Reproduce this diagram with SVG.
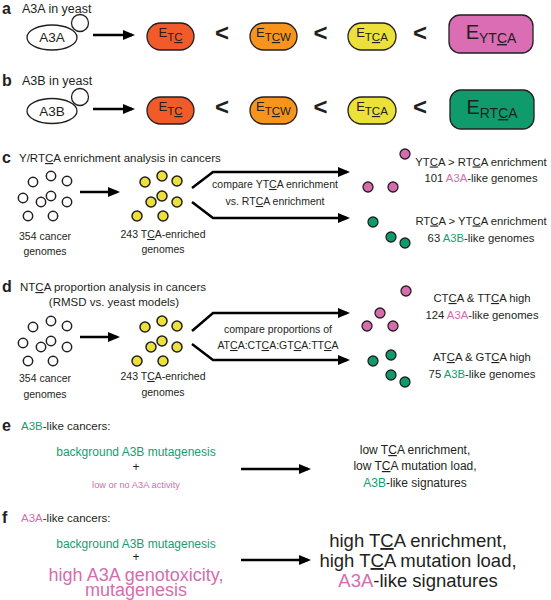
<svg xmlns="http://www.w3.org/2000/svg" width="551" height="600" viewBox="0 0 551 600">
<style>
text{font-family:"Liberation Sans",Arial,Helvetica,sans-serif;fill:#231f20}
.lbl{font-weight:bold;font-size:16px}
.h{font-size:12.5px}
.s{font-size:11.5px}
.m{font-size:10.5px}
.cap{font-size:11.3px}
.lt{font-weight:bold;font-size:24px}
.pe{font-size:13px}
.pE{font-size:20px}
.u{text-decoration:underline}
.pk{fill:#d66cad}
.gn{fill:#149e72}
.open{fill:#fff;stroke:#231f20;stroke-width:1.5}
.yel{fill:#ebe13a;stroke:#231f20;stroke-width:1.5}
.pd{fill:#d66cae;stroke:#231f20;stroke-width:1.3}
.gd{fill:#0f9a6c;stroke:#231f20;stroke-width:1.3}
.ar{fill:none;stroke:#000;stroke-width:2.5;marker-end:url(#ah)}
.pill{stroke:#231f20;stroke-width:1.3}
.yst{fill:#fff;stroke:#231f20;stroke-width:1.3}
</style>
<defs>
<marker id="ah" markerUnits="userSpaceOnUse" markerWidth="12" markerHeight="10" refX="9" refY="5" orient="auto"><path d="M0,0 L12,5 L0,10 z" fill="#000"/></marker>
</defs>

<!-- panel a -->
<g id="panel-a-label"><text x="2" y="13.5" class="lbl">a</text><text x="22" y="12.5" class="h">A3A in yeast</text></g>
<g id="yeastA"><ellipse cx="52" cy="37.5" rx="25" ry="12.5" class="yst"/><circle cx="80" cy="23" r="8.5" class="yst"/><text x="52" y="42" text-anchor="middle" style="font-size:13.5px">A3A</text></g>
<g id="a-ETC"><rect x="147" y="23" width="47" height="27" rx="13.5" fill="#f15a29" class="pill"/><text x="170.5" y="37" text-anchor="middle" class="pe">E<tspan dy="4" style="font-size:11.5px">T<tspan class="u">C</tspan></tspan></text></g>
<g id="a-lt1"><text x="222" y="41" text-anchor="middle" class="lt">&lt;</text></g>
<g id="a-ETCW"><rect x="250" y="23" width="47" height="27" rx="13.5" fill="#f7941d" class="pill"/><text x="273.5" y="37" text-anchor="middle" class="pe">E<tspan dy="4" style="font-size:11.5px">T<tspan class="u">C</tspan>W</tspan></text></g>
<g id="a-lt2"><text x="320.5" y="41" text-anchor="middle" class="lt">&lt;</text></g>
<g id="a-ETCA"><rect x="348" y="23" width="48" height="27" rx="13.5" fill="#ebe13a" class="pill"/><text x="372" y="37" text-anchor="middle" class="pe">E<tspan dy="4" style="font-size:11.5px">T<tspan class="u">C</tspan>A</tspan></text></g>
<g id="a-lt3"><text x="420" y="41" text-anchor="middle" class="lt">&lt;</text></g>
<g id="a-EYTCA"><rect x="449" y="15" width="84" height="38" rx="11" fill="#da6db3" class="pill"/><text x="491" y="39" text-anchor="middle" class="pE">E<tspan dy="4" style="font-size:14px">YT<tspan class="u">C</tspan>A</tspan></text></g>

<!-- panel b -->
<g id="panel-b-label"><text x="2" y="86" class="lbl">b</text><text x="22" y="85" class="h">A3B in yeast</text></g>
<g id="yeastB"><ellipse cx="52" cy="111" rx="25" ry="12.5" class="yst"/><circle cx="80" cy="97" r="8.5" class="yst"/><text x="52" y="115.5" text-anchor="middle" style="font-size:13.5px">A3B</text></g>
<g id="b-ETC"><rect x="147" y="97" width="47" height="27" rx="13.5" fill="#f15a29" class="pill"/><text x="170.5" y="111" text-anchor="middle" class="pe">E<tspan dy="4" style="font-size:11.5px">T<tspan class="u">C</tspan></tspan></text></g>
<g id="b-lt1"><text x="222" y="115" text-anchor="middle" class="lt">&lt;</text></g>
<g id="b-ETCW"><rect x="250" y="97" width="47" height="27" rx="13.5" fill="#f7941d" class="pill"/><text x="273.5" y="111" text-anchor="middle" class="pe">E<tspan dy="4" style="font-size:11.5px">T<tspan class="u">C</tspan>W</tspan></text></g>
<g id="b-lt2"><text x="320.5" y="115" text-anchor="middle" class="lt">&lt;</text></g>
<g id="b-ETCA"><rect x="348" y="97" width="48" height="27" rx="13.5" fill="#ebe13a" class="pill"/><text x="372" y="111" text-anchor="middle" class="pe">E<tspan dy="4" style="font-size:11.5px">T<tspan class="u">C</tspan>A</tspan></text></g>
<g id="b-lt3"><text x="420" y="115" text-anchor="middle" class="lt">&lt;</text></g>
<g id="b-ERTCA"><rect x="450" y="90" width="84" height="39" rx="11" fill="#109b6d" class="pill"/><text x="492" y="114" text-anchor="middle" class="pE">E<tspan dy="4" style="font-size:14px">RT<tspan class="u">C</tspan>A</tspan></text></g>

<!-- panel c -->
<g id="panel-c-label"><text x="2" y="163" class="lbl">c</text><text x="19" y="162" class="s">Y/RT<tspan class="u">C</tspan>A enrichment analysis in cancers</text></g>
<g id="c-cancers">
<circle cx="33" cy="182" r="4.7" class="open"/><circle cx="51" cy="176" r="4.7" class="open"/><circle cx="67" cy="181" r="4.7" class="open"/>
<circle cx="23" cy="198" r="4.7" class="open"/><circle cx="41" cy="202" r="4.7" class="open"/><circle cx="51" cy="196" r="4.7" class="open"/><circle cx="67" cy="202" r="4.7" class="open"/>
<circle cx="28" cy="216" r="4.7" class="open"/><circle cx="53" cy="216" r="4.7" class="open"/>
<text x="45" y="240" text-anchor="middle" class="m">354 cancer</text><text x="45" y="255" text-anchor="middle" class="m">genomes</text>
</g>
<g id="c-enriched">
<circle cx="145" cy="182" r="5" class="yel"/><circle cx="162" cy="176" r="5" class="yel"/><circle cx="177" cy="181" r="5" class="yel"/>
<circle cx="162" cy="196" r="5" class="yel"/><circle cx="151" cy="202" r="5" class="yel"/><circle cx="177" cy="202" r="5" class="yel"/>
<circle cx="137" cy="216" r="5" class="yel"/><circle cx="163" cy="216" r="5" class="yel"/>
<text x="163" y="238" text-anchor="middle" class="m">243 T<tspan class="u">C</tspan>A-enriched</text><text x="163" y="253" text-anchor="middle" class="m">genomes</text>
</g>
<g id="c-compare"><text x="275" y="188" text-anchor="middle" class="m">compare YT<tspan class="u">C</tspan>A enrichment</text><text x="275" y="205" text-anchor="middle" class="m">vs. RT<tspan class="u">C</tspan>A enrichment</text></g>
<g id="c-A3A">
<circle cx="405" cy="154" r="5" class="pd"/><circle cx="368" cy="187" r="5" class="pd"/><circle cx="393" cy="187" r="5" class="pd"/>
<text x="481" y="165.5" text-anchor="middle" class="cap">YT<tspan class="u">C</tspan>A &gt; RT<tspan class="u">C</tspan>A enrichment</text>
<text x="481" y="181.5" text-anchor="middle" class="cap">101 <tspan class="pk">A3A</tspan>-like genomes</text>
</g>
<g id="c-A3B">
<circle cx="373" cy="222" r="5" class="gd"/><circle cx="391" cy="237" r="5" class="gd"/><circle cx="405" cy="243" r="5" class="gd"/>
<text x="481" y="224.5" text-anchor="middle" class="cap">RT<tspan class="u">C</tspan>A &gt; YT<tspan class="u">C</tspan>A enrichment</text>
<text x="481" y="241.5" text-anchor="middle" class="cap">63 <tspan class="gn">A3B</tspan>-like genomes</text>
</g>

<!-- panel d -->
<g id="panel-d-label"><text x="2" y="292" class="lbl">d</text><text x="20" y="291" class="s">NT<tspan class="u">C</tspan>A proportion analysis in cancers</text><text x="114" y="306" text-anchor="middle" class="s">(RMSD vs. yeast models)</text></g>
<g id="d-cancers">
<circle cx="33" cy="327" r="4.7" class="open"/><circle cx="51" cy="321" r="4.7" class="open"/><circle cx="67" cy="326" r="4.7" class="open"/>
<circle cx="23" cy="343" r="4.7" class="open"/><circle cx="41" cy="347" r="4.7" class="open"/><circle cx="51" cy="341" r="4.7" class="open"/><circle cx="67" cy="347" r="4.7" class="open"/>
<circle cx="28" cy="361" r="4.7" class="open"/><circle cx="53" cy="361" r="4.7" class="open"/>
<text x="45" y="382" text-anchor="middle" class="m">354 cancer</text><text x="45" y="398" text-anchor="middle" class="m">genomes</text>
</g>
<g id="d-enriched">
<circle cx="145" cy="327" r="5" class="yel"/><circle cx="162" cy="321" r="5" class="yel"/><circle cx="177" cy="326" r="5" class="yel"/>
<circle cx="162" cy="341" r="5" class="yel"/><circle cx="151" cy="347" r="5" class="yel"/><circle cx="177" cy="347" r="5" class="yel"/>
<circle cx="137" cy="361" r="5" class="yel"/><circle cx="163" cy="361" r="5" class="yel"/>
<text x="163" y="380" text-anchor="middle" class="m">243 T<tspan class="u">C</tspan>A-enriched</text><text x="163" y="396" text-anchor="middle" class="m">genomes</text>
</g>
<g id="d-compare"><text x="278" y="333" text-anchor="middle" class="m">compare proportions of</text><text x="278" y="349" text-anchor="middle" class="m">AT<tspan class="u">C</tspan>A:CT<tspan class="u">C</tspan>A:GT<tspan class="u">C</tspan>A:TT<tspan class="u">C</tspan>A</text></g>
<g id="d-A3A">
<circle cx="406" cy="291" r="5" class="pd"/><circle cx="380" cy="313" r="5" class="pd"/><circle cx="367" cy="326" r="5" class="pd"/><circle cx="393" cy="326" r="5" class="pd"/>
<text x="482" y="302" text-anchor="middle" class="cap">CT<tspan class="u">C</tspan>A &amp; TT<tspan class="u">C</tspan>A high</text>
<text x="482" y="319" text-anchor="middle" class="cap">124 <tspan class="pk">A3A</tspan>-like genomes</text>
</g>
<g id="d-A3B">
<circle cx="391" cy="355" r="5" class="gd"/><circle cx="373" cy="361" r="5" class="gd"/><circle cx="391" cy="375" r="5" class="gd"/><circle cx="405" cy="382" r="5" class="gd"/>
<text x="482" y="361" text-anchor="middle" class="cap">AT<tspan class="u">C</tspan>A &amp; GT<tspan class="u">C</tspan>A high</text>
<text x="482" y="378" text-anchor="middle" class="cap">75 <tspan class="gn">A3B</tspan>-like genomes</text>
</g>

<!-- panel e -->
<g id="panel-e-label"><text x="2" y="431" class="lbl">e</text><text x="21" y="430" class="s"><tspan class="gn">A3B</tspan>-like cancers:</text></g>
<g id="e-left">
<text x="136" y="456" text-anchor="middle" style="font-size:12px" class="gn">background A3B mutagenesis</text>
<text x="136" y="471" text-anchor="middle" style="font-size:12px">+</text>
<text x="136" y="488" text-anchor="middle" style="font-size:9.3px" class="pk">low or no A3A activity</text>
</g>
<g id="e-right">
<text x="415" y="454" text-anchor="middle" style="font-size:12px">low T<tspan class="u">C</tspan>A enrichment,</text>
<text x="415" y="470" text-anchor="middle" style="font-size:12px">low T<tspan class="u">C</tspan>A mutation load,</text>
<text x="415" y="487" text-anchor="middle" style="font-size:12px"><tspan class="gn">A3B</tspan>-like signatures</text>
</g>

<!-- panel f -->
<g id="panel-f-label"><text x="2" y="523" class="lbl">f</text><text x="21" y="522" class="s"><tspan class="pk">A3A</tspan>-like cancers:</text></g>
<g id="f-left">
<text x="136" y="548" text-anchor="middle" style="font-size:12px" class="gn">background A3B mutagenesis</text>
<text x="136" y="561" text-anchor="middle" style="font-size:12px">+</text>
<text text-anchor="middle" style="font-size:18px" class="pk"><tspan x="136" y="581">high A3A genotoxicity,</tspan><tspan x="136" y="596">mutagenesis</tspan></text>
</g>
<g id="f-right">
<text x="418" y="547" text-anchor="middle" style="font-size:18.5px">high T<tspan class="u">C</tspan>A enrichment,</text>
<text x="418" y="567" text-anchor="middle" style="font-size:18.5px">high T<tspan class="u">C</tspan>A mutation load,</text>
<text x="418" y="587" text-anchor="middle" style="font-size:18.5px"><tspan class="pk">A3A</tspan>-like signatures</text>
</g>

<!-- connectors -->
<g id="connectors">
<path d="M93,35 L132,35" class="ar"/>
<path d="M93,109 L132,109" class="ar"/>
<path d="M80,192 L117,192" class="ar"/>
<path d="M192,188 L213,172 L347,172" class="ar"/>
<path d="M192,202 L213,218 L347,218" class="ar"/>
<path d="M80,337 L117,337" class="ar"/>
<path d="M192,331 L213,313 L347,313" class="ar"/>
<path d="M192,344 L213,360 L347,360" class="ar"/>
<path d="M241,469 L308,469" class="ar"/>
<path d="M241,560 L308,560" class="ar"/>
</g>
</svg>
